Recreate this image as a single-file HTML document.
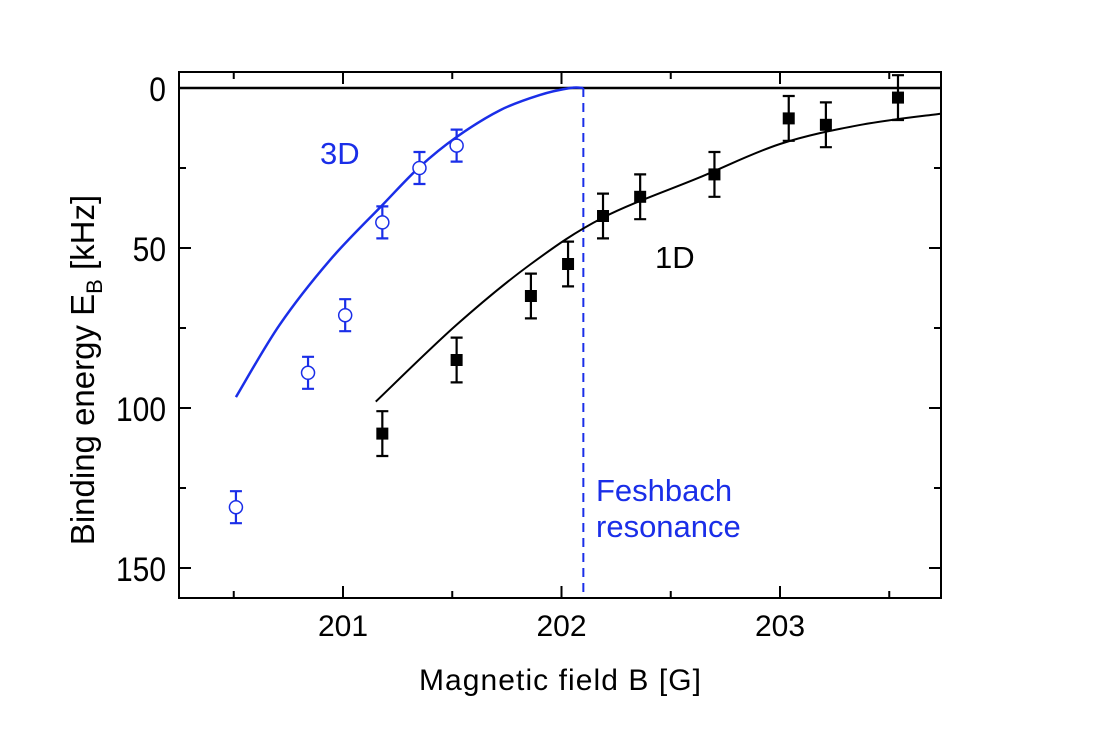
<!DOCTYPE html>
<html><head><meta charset="utf-8"><style>
body{margin:0;background:#fff}
svg{display:block;font-family:"Liberation Sans",Arial,sans-serif}
</style></head><body>
<svg id="chart" width="1094" height="744" viewBox="0 0 1094 744">
<g id="axes"></g>
<g id="marks"></g>
</svg>
<script>
const xTicks=[201,202,203];
const xMinor=[200.5,201.5,202.5,203.5];
const yTicks=[0,50,100,150];
const yMinor=[25,75,125];
const b3d=[200.51,200.84,201.01,201.18,201.35,201.52];
const e3d=[131,89,71,42,25,18];
const err3d=[5,5,5,5,5,5];
const b1d=[201.18,201.52,201.86,202.03,202.19,202.36,202.70,203.04,203.21,203.54];
const e1d=[108,85,65,55,40,34,27,9.5,11.5,3];
const err1d=[7,7,7,7,7,7,7,7,7,7];
const fit3dB=[200.51,200.71,200.94,201.18,201.35,201.52,201.72,201.90,202.04,202.10];
const fit3dE=[96.6,74,53.8,36.6,24.7,15.3,6.9,2.2,0,0];
const fit1dB=[201.15,201.52,201.86,202.19,202.63,203.00,203.37,203.74];
const fit1dE=[98,74,55,40.5,28,17.5,11.5,8];
const resonanceB=202.1;

const L=179,R=941,T=72,Bt=598;
const x=b=>343+(b-201)*218.5;
const y=e=>88+e*3.2;
const NS='http://www.w3.org/2000/svg';
function mk(tag,attrs,parent){const el=document.createElementNS(NS,tag);for(const k in attrs)el.setAttribute(k,attrs[k]);parent.appendChild(el);return el;}
const ax=document.getElementById('axes'),mg=document.getElementById('marks');

let f=mk('rect',{x:L,y:T,width:R-L,height:Bt-T,fill:'none',stroke:'#000','stroke-width':2},ax);


xTicks.forEach(v=>{
 let t=mk('path',{d:`M${x(v)},${Bt}v-12M${x(v)},${T}v12`,stroke:'#000','stroke-width':2},ax);
 
 
 let l=mk('text',{x:x(v),y:636,'text-anchor':'middle','font-size':30},ax);l.textContent=v;
 
 
});
xMinor.forEach(v=>{
 let t=mk('path',{d:`M${x(v)},${Bt}v-7M${x(v)},${T}v7`,stroke:'#000','stroke-width':2},ax);
 
 
});
yTicks.forEach(v=>{
 let t=mk('path',{d:`M${L},${y(v)}h12M${R},${y(v)}h-12`,stroke:'#000','stroke-width':2},ax);
 
 
 let l=mk('text',{transform:`translate(166,${y(v)+13}) scale(1,1.15)`,'text-anchor':'end','font-size':30},ax);l.textContent=v;
 
 
});
yMinor.forEach(v=>{
 let t=mk('path',{d:`M${L},${y(v)}h7M${R},${y(v)}h-7`,stroke:'#000','stroke-width':2},ax);
 
 
});
let xt=mk('text',{x:560,y:690,'text-anchor':'middle','font-size':30,textLength:282},ax);xt.textContent='Magnetic field B [G]';


let yt=mk('text',{transform:'translate(94,370) rotate(-90)','text-anchor':'middle','font-size':33},ax);
yt.innerHTML='Binding energy E<tspan font-size="22" dy="8">B</tspan><tspan dy="-8"> [kHz]</tspan>';



let zl=mk('line',{x1:L,x2:R,y1:y(0),y2:y(0),stroke:'#000','stroke-width':2.5},mg);


let rl=mk('line',{x1:x(resonanceB),x2:x(resonanceB),y1:y(0),y2:Bt,stroke:'#1a2ee8','stroke-width':2,'stroke-dasharray':'9,6'},mg);



function smooth(pts){let d=`M${pts[0][0]},${pts[0][1]}`;
 for(let i=0;i<pts.length-1;i++){const p0=pts[Math.max(0,i-1)],p1=pts[i],p2=pts[i+1],p3=pts[Math.min(pts.length-1,i+2)];
 d+=`C${p1[0]+(p2[0]-p0[0])/6},${p1[1]+(p2[1]-p0[1])/6} ${p2[0]-(p3[0]-p1[0])/6},${p2[1]-(p3[1]-p1[1])/6} ${p2[0]},${p2[1]}`;}return d;}
let c3=mk('path',{d:smooth(fit3dB.map((b,i)=>[x(b),y(fit3dE[i])])),fill:'none',stroke:'#1a2ee8','stroke-width':2.5},mg);


let c1=mk('path',{d:smooth(fit1dB.map((b,i)=>[x(b),y(fit1dE[i])])),fill:'none',stroke:'#000','stroke-width':2},mg);



function errbar(px,e,er,col,parent){
 return mk('path',{d:`M${px},${y(e-er)}V${y(e+er)}M${px-6},${y(e-er)}h12M${px-6},${y(e+er)}h12`,stroke:col,'stroke-width':2.2,fill:'none'},parent);}
b3d.forEach((b,i)=>{
 let g=mk('g',{},mg);
 
 
 errbar(x(b),e3d[i],err3d[i],'#1a2ee8',g);
 mk('circle',{cx:x(b),cy:y(e3d[i]),r:6.5,fill:'#fff',stroke:'#1a2ee8','stroke-width':1.5},g);
});
b1d.forEach((b,i)=>{
 let g=mk('g',{},mg);
 
 
 errbar(x(b),e1d[i],err1d[i],'#000',g);
 mk('rect',{x:x(b)-6,y:y(e1d[i])-6,width:12,height:12,fill:'#000'},g);
});
function lbl(t,px,py,col,name){let l=mk('text',{x:px,y:py,'font-size':31,fill:col},mg);l.textContent=t;
 
 }
lbl('3D',320,164,'#1a2ee8','label-3d');
lbl('1D',655,268,'#000','label-1d');
lbl('Feshbach',596,501,'#1a2ee8','label-feshbach');
lbl('resonance',596,537,'#1a2ee8','label-resonance');
</script>
</body></html>
